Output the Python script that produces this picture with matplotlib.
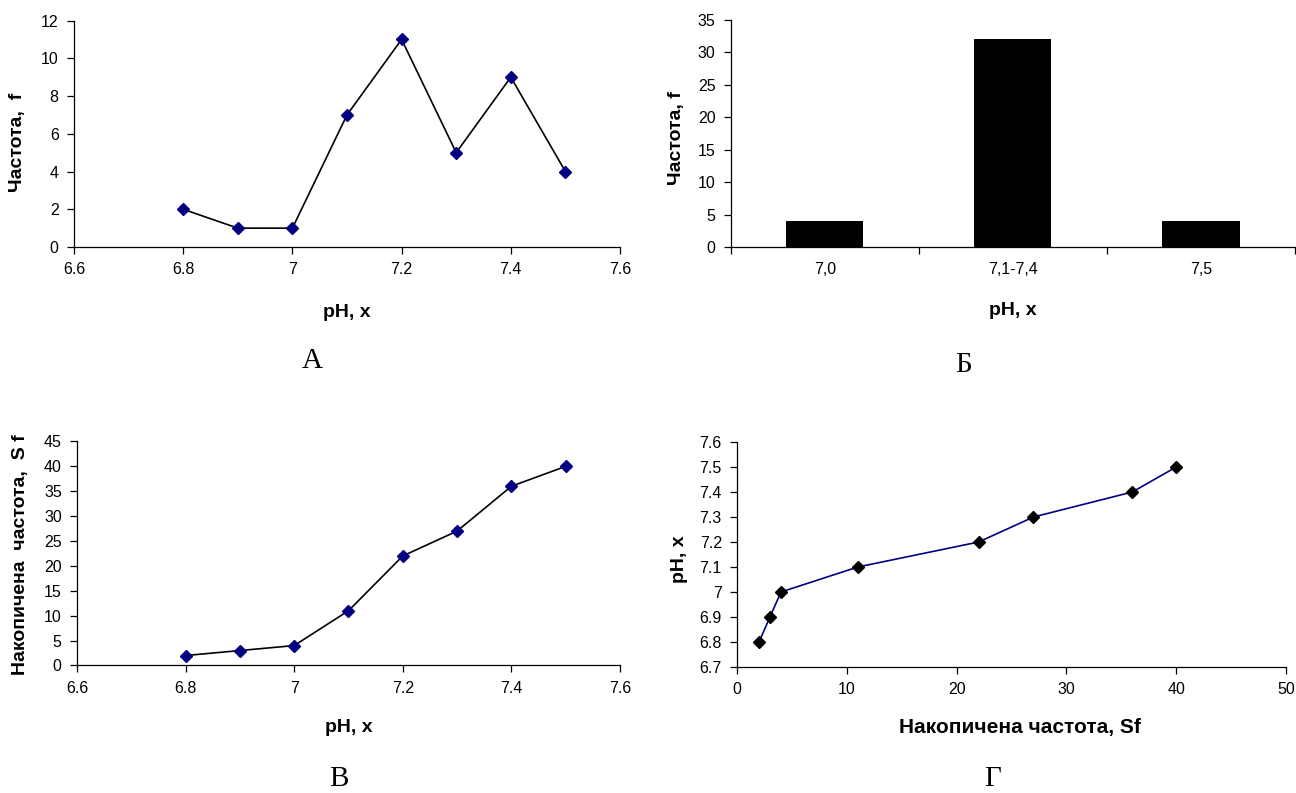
import matplotlib.pyplot as plt
from matplotlib.ticker import FuncFormatter, FixedLocator

plt.rcParams['font.family'] = ['Liberation Sans', 'DejaVu Sans']

# data
ph = [6.8, 6.9, 7.0, 7.1, 7.2, 7.3, 7.4, 7.5]
freq = [2, 1, 1, 7, 11, 5, 9, 4]
cum_freq = [2, 3, 4, 11, 22, 27, 36, 40]
groups = ["7,0", "7,1-7,4", "7,5"]
group_freq = [4, 32, 4]

navy = "#000080"
fmt = FuncFormatter(lambda v, p: f"{v:g}")


def style(ax):
    for s in ["top", "right"]:
        ax.spines[s].set_visible(False)
    for s in ["left", "bottom"]:
        ax.spines[s].set_linewidth(0.9)
    ax.tick_params(direction="out", length=5, width=0.9, labelsize=11.5, pad=6)


def labels(ax, xl, yl, xpos, ypos, xsize=14):
    ax.set_xlabel(xl, fontsize=xsize, fontweight="bold", va="center")
    ax.set_ylabel(yl, fontsize=14, fontweight="bold", va="center")
    ax.xaxis.set_label_coords(*xpos)
    ax.yaxis.set_label_coords(*ypos)


fig = plt.figure(figsize=(12.96, 7.93), dpi=100)

# A
ax1 = fig.add_axes([0.0571, 0.6885, 0.4213, 0.2856])
ax1.plot(ph, freq, color="black", lw=1.2, marker="D", ms=6, mfc=navy, mec=navy)
ax1.set_xlim(6.6, 7.6)
ax1.set_ylim(0, 12)
ax1.set_xticks([6.6, 6.8, 7.0, 7.2, 7.4, 7.6])
ax1.set_yticks(range(0, 13, 2))
ax1.xaxis.set_major_formatter(fmt)
style(ax1)
labels(ax1, "pH, x", "Частота,  f", (0.5, -0.287), (-0.1026, 0.4636))

# Б
ax2 = fig.add_axes([0.5640, 0.6885, 0.4352, 0.2869])
pos = range(len(groups))
ax2.bar(pos, group_freq, width=0.41, color="black")
ax2.set_xlim(-0.5, 2.5)
ax2.set_ylim(0, 35)
ax2.set_yticks(range(0, 36, 5))
ax2.set_xticks(list(pos))
ax2.set_xticklabels(groups)
ax2.xaxis.set_minor_locator(FixedLocator([-0.5, 0.5, 1.5, 2.5]))
style(ax2)
ax2.tick_params(axis="x", which="major", length=0, pad=11)
ax2.tick_params(axis="x", which="minor", direction="out", length=5, width=0.9)
labels(ax2, "pH, x", "Частота, f", (0.5, -0.277), (-0.0957, 0.479))

# В
ax3 = fig.add_axes([0.0594, 0.1608, 0.4190, 0.2825])
ax3.plot(ph, cum_freq, color="black", lw=1.2, marker="D", ms=6, mfc=navy, mec=navy)
ax3.set_xlim(6.6, 7.6)
ax3.set_ylim(0, 45)
ax3.set_xticks([6.6, 6.8, 7.0, 7.2, 7.4, 7.6])
ax3.set_yticks(range(0, 46, 5))
ax3.xaxis.set_major_formatter(fmt)
style(ax3)
labels(ax3, "pH, x", "Накопичена  частота,  S f", (0.5, -0.2746), (-0.1031, 0.493))

# Г
ax4 = fig.add_axes([0.5687, 0.1589, 0.4236, 0.2837])
ax4.plot(cum_freq, ph, color=navy, lw=1.2, marker="D", ms=6, mfc="black", mec="black")
ax4.set_xlim(0, 50)
ax4.set_ylim(6.7, 7.6)
ax4.set_xticks(range(0, 51, 10))
ax4.set_yticks([6.7, 6.8, 6.9, 7.0, 7.1, 7.2, 7.3, 7.4, 7.5, 7.6])
ax4.yaxis.set_major_formatter(fmt)
style(ax4)
labels(ax4, "Накопичена частота, Sf", "pH, x", (0.515, -0.267), (-0.1042, 0.48), xsize=15)

# panel letters
for x, y, t in [(312, 368, "А"), (964, 372, "Б"), (339, 786, "В"), (993, 786, "Г")]:
    fig.text(x / 1296, 1 - y / 793, t, fontsize=21, family="Liberation Serif",
             ha="center", va="baseline")

fig.savefig("out.png", dpi=100)
